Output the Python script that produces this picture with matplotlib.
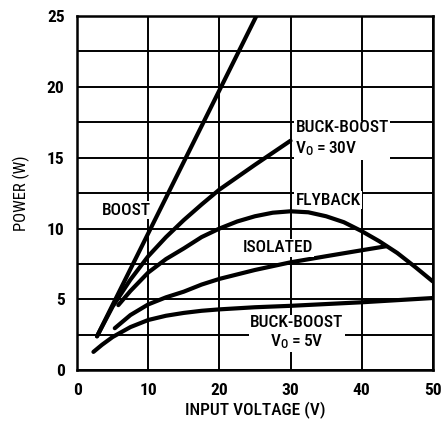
import matplotlib
matplotlib.use("Agg")
import matplotlib.pyplot as plt

# ---- data ----
boost_x = [2.8, 25.2]
boost_y = [2.4, 25.0]

bb30_x = [2.8, 5, 7.5, 10, 12.5, 15, 17.5, 20, 25, 30]
bb30_y = [2.4, 4.5, 6.4, 8.05, 9.4, 10.6, 11.7, 12.75, 14.5, 16.2]

fly_x = [5.8, 7.5, 10, 12.5, 15, 17.5, 20, 22.5, 25, 27.5, 30, 32.5, 35, 37.5, 40, 42.5, 45, 47.5, 50]
fly_y = [4.6, 5.6, 6.9, 7.85, 8.6, 9.4, 10.0, 10.5, 10.87, 11.12, 11.22, 11.15, 10.87, 10.45, 9.82, 9.1, 8.28, 7.3, 6.27]

iso_x = [5.3, 7.5, 10, 12.5, 15, 17.5, 20, 25, 30, 35, 40, 43.4]
iso_y = [2.97, 3.9, 4.65, 5.15, 5.55, 6.05, 6.45, 7.08, 7.62, 8.05, 8.47, 8.75]

bb5_x = [2.3, 3.5, 5, 7.5, 10, 12.5, 15, 17.5, 20, 25, 30, 40, 50]
bb5_y = [1.3, 1.8, 2.35, 3.05, 3.55, 3.85, 4.05, 4.2, 4.3, 4.45, 4.55, 4.8, 5.1]

x_ticks = [0, 10, 20, 30, 40, 50]
y_ticks = [0, 5, 10, 15, 20, 25]

plt.rcParams['font.family'] = ['Roboto Condensed', 'Liberation Sans Narrow', 'Roboto', 'DejaVu Sans']

fig = plt.figure(figsize=(4.43, 4.21), dpi=100)
ax = fig.add_axes([0.174, 0.1204, 0.803, 0.8416])
ax.set_xlim(0, 50)
ax.set_ylim(0, 25)

ax.set_xticks(x_ticks)
ax.set_yticks(y_ticks)
ax.set_xticks([10, 20, 30, 40], minor=True)
ax.set_yticks([2.5 * i for i in range(1, 10)], minor=True)
ax.grid(True, which='both', color='black', linewidth=1.4)
ax.tick_params(which='both', length=0)
ax.tick_params(axis='x', labelsize=12.5, pad=9)
ax.tick_params(axis='y', labelsize=12.5, pad=9)
for lab in ax.get_xticklabels() + ax.get_yticklabels():
    lab.set_fontweight('bold')
for s in ax.spines.values():
    s.set_linewidth(1.8)

lw = 3.0
for xs, ys in [(boost_x, boost_y), (bb30_x, bb30_y), (fly_x, fly_y), (iso_x, iso_y), (bb5_x, bb5_y)]:
    ax.plot(xs, ys, color='black', linewidth=lw, solid_capstyle='round', zorder=3)

bbox = dict(facecolor='white', edgecolor='none', pad=1.0)
tk = dict(fontsize=12.5, color='black', zorder=4, bbox=bbox, fontweight='medium')
ax.text(6.9, 11.3, "BOOST", ha='center', va='center', **tk)
ax.text(30.7, 16.3, "BUCK-BOOST\n$\\mathregular{V_O = 30V}$", ha='left', va='center', linespacing=1.3, **tk)
ax.text(30.7, 12.0, "FLYBACK", ha='left', va='center', **tk)
ax.text(28.2, 8.65, "ISOLATED", ha='center', va='center', **tk)
ax.text(30.9, 2.65, "BUCK-BOOST\n$\\mathregular{V_O = 5V}$", ha='center', va='center', linespacing=1.2, **tk)

ax.set_xlabel("INPUT VOLTAGE (V)", fontsize=12.5, labelpad=3, fontweight='medium')
ax.set_ylabel("POWER (W)", fontsize=12, labelpad=12)

fig.savefig("out.png", dpi=100)
